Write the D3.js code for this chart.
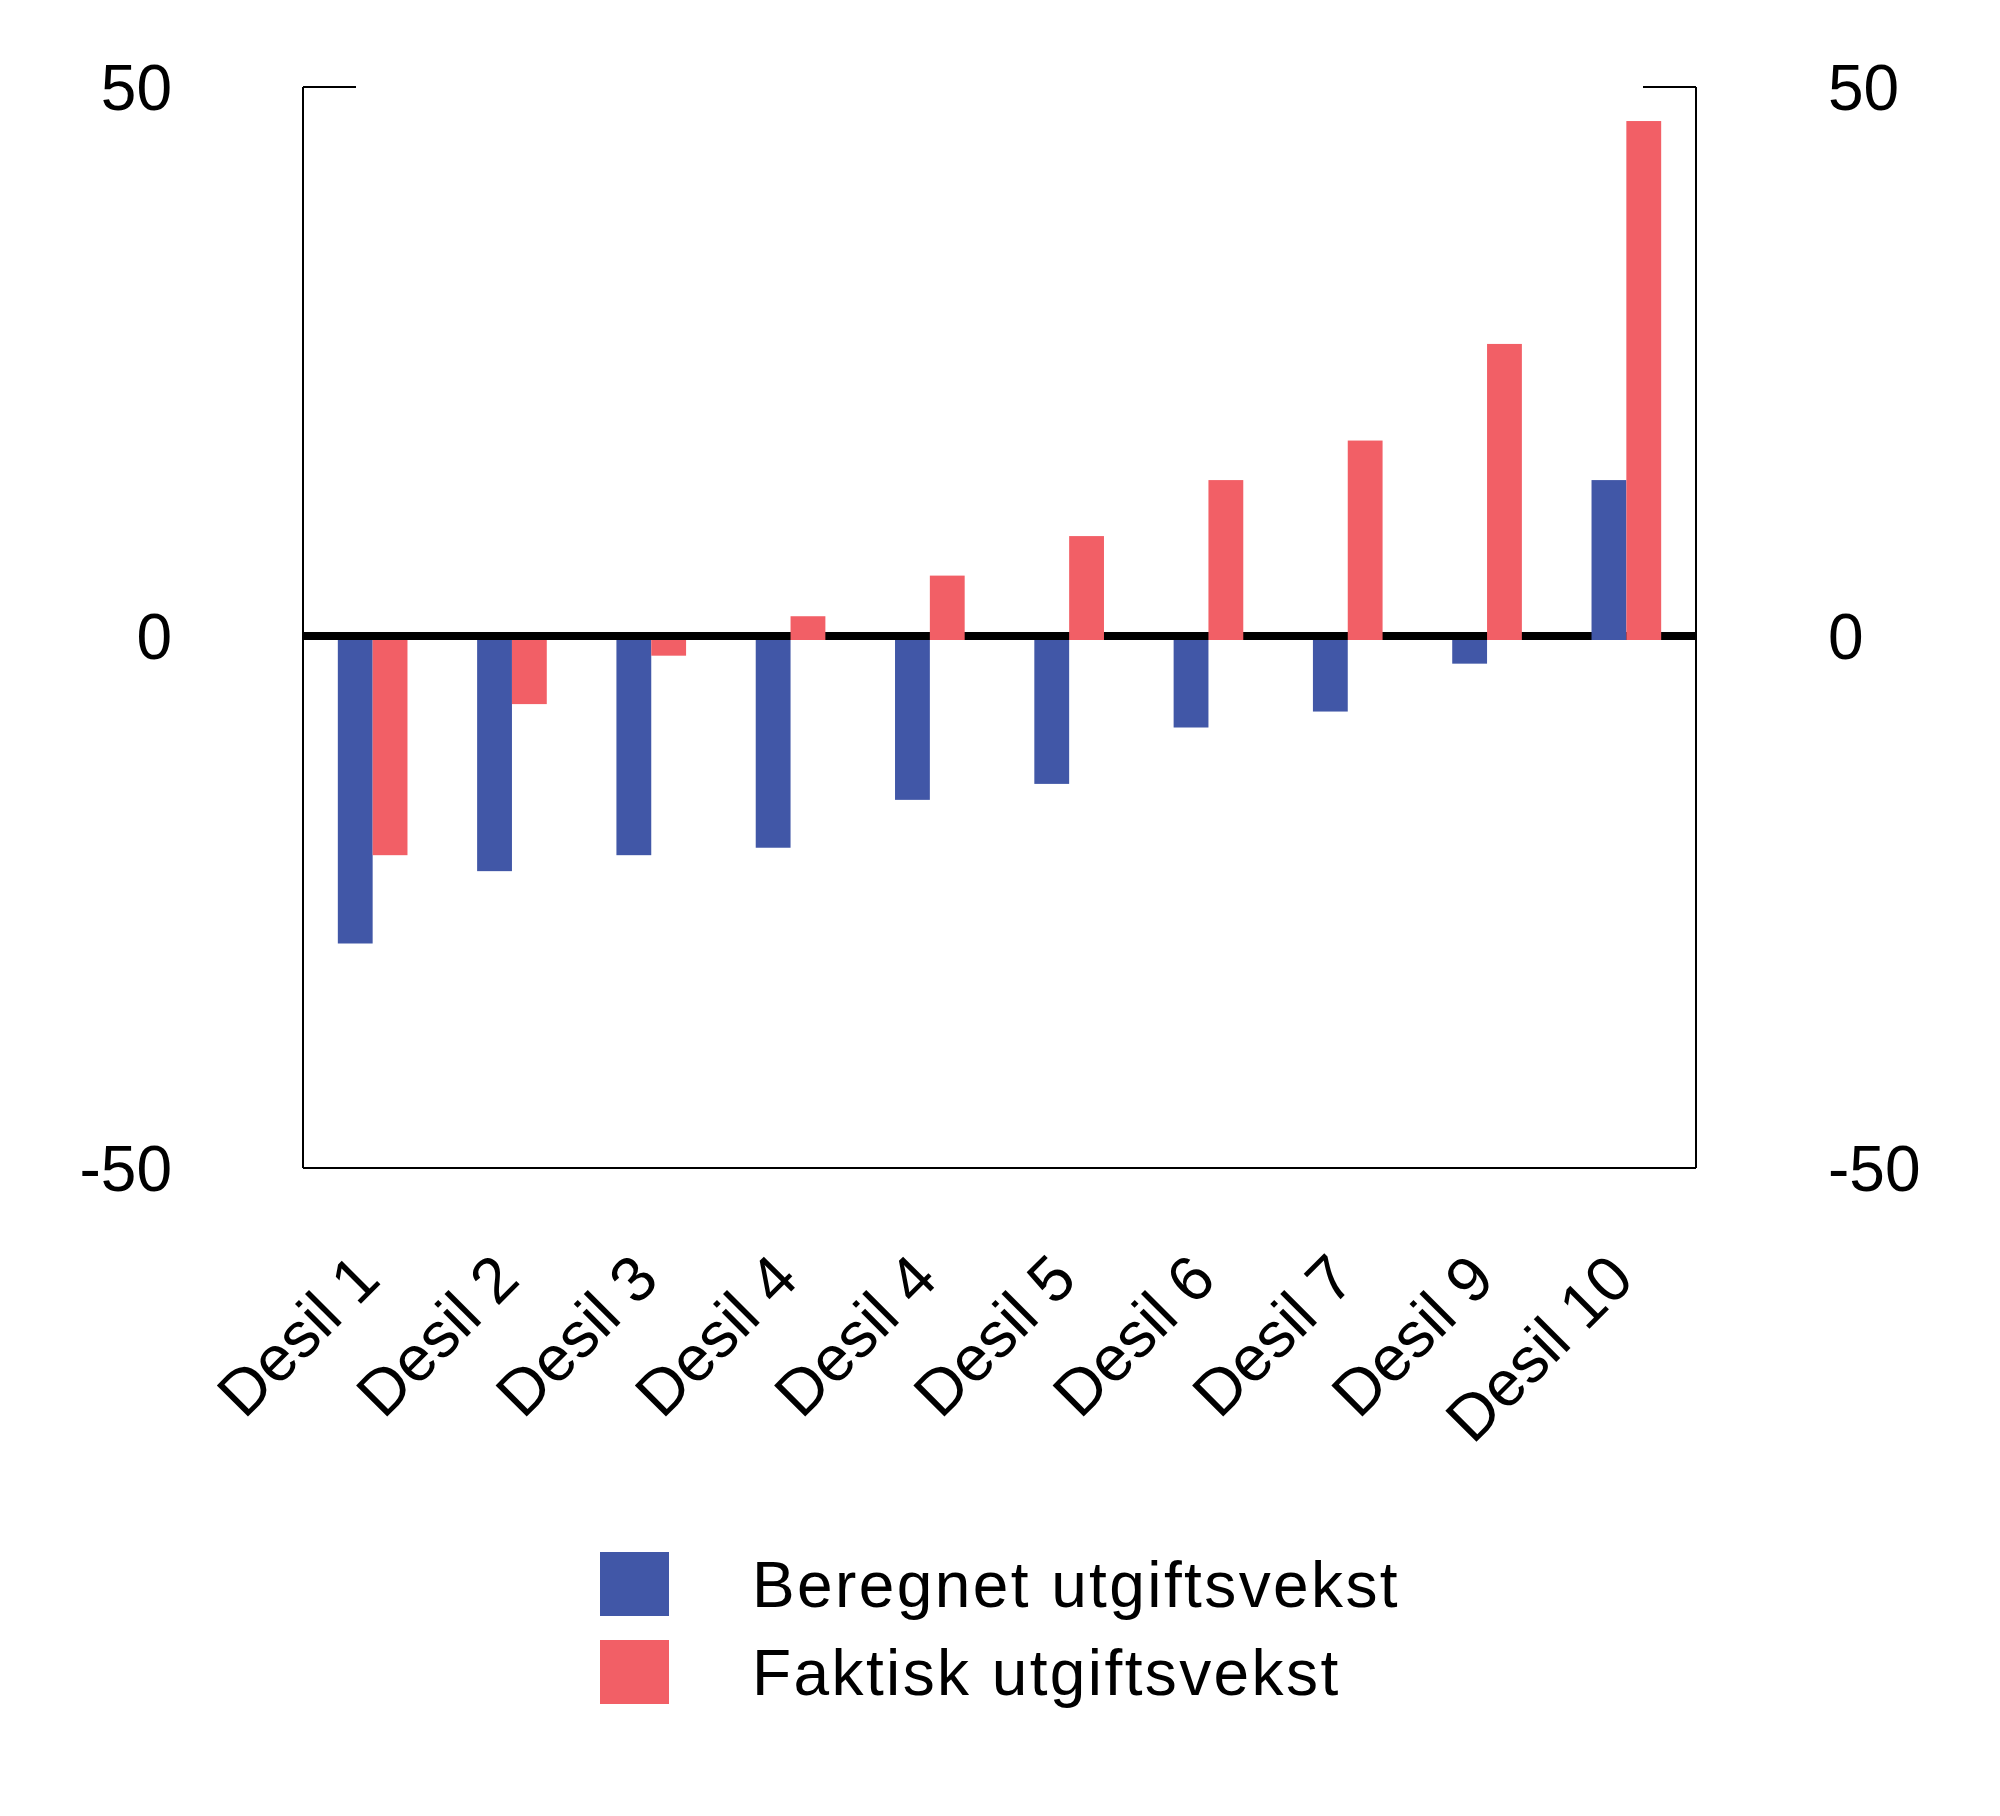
<!DOCTYPE html>
<html>
<head>
<meta charset="utf-8">
<script src="https://cdn.jsdelivr.net/npm/d3@7"></script>
<style>
  body { margin: 0; background: #fff; }
  svg { display: block; font-family: "Liberation Sans", Arial, sans-serif; }
</style>
</head>
<body>
<svg id="chart" width="2000" height="1816"></svg>
<script>
// categories (note: "Desil 4" appears twice in the source chart)
var categories = ["Desil 1", "Desil 2", "Desil 3", "Desil 4", "Desil 4", "Desil 5", "Desil 6", "Desil 7", "Desil 9", "Desil 10"];
var beregnet = [-28.9, -22.1, -20.6, -19.9, -15.4, -13.9, -8.6, -7.1, -2.6, 14.2];
var faktisk = [-20.6, -6.4, -1.85, 1.8, 5.5, 9.1, 14.2, 17.8, 26.6, 46.9];
var seriesNames = ["Beregnet utgiftsvekst", "Faktisk utgiftsvekst"];
var seriesColors = ["#4157a7", "#f25f66"];
var yTicks = [50, 0, -50];

var svg = d3.select("#chart");
var pLeft = 303, pRight = 1696, pTop = 87, pBottom = 1168;

// piecewise: the zero line sits a bit below the midpoint in the original
var y = d3.scaleLinear().domain([-50, 0, 50]).range([pBottom, 636, pTop]);
var x = d3.scaleBand().domain(d3.range(categories.length)).range([pLeft, pRight])
  .paddingInner(0.5).paddingOuter(0.25);
var xs = d3.scaleBand().domain([0, 1]).range([0, x.bandwidth()]);

var frame = svg.append("g").attr("stroke", "#000").attr("stroke-width", 2).attr("fill", "none");
frame.append("line").attr("x1", pLeft).attr("x2", pLeft).attr("y1", pTop).attr("y2", pBottom);
frame.append("line").attr("x1", pRight).attr("x2", pRight).attr("y1", pTop).attr("y2", pBottom);
frame.append("line").attr("x1", pLeft).attr("x2", pRight).attr("y1", pBottom).attr("y2", pBottom);
frame.append("line").attr("x1", pLeft).attr("x2", pLeft + 53).attr("y1", pTop).attr("y2", pTop);
frame.append("line").attr("x1", pRight - 53).attr("x2", pRight).attr("y1", pTop).attr("y2", pTop);

// zero line
svg.append("line").attr("x1", pLeft).attr("x2", pRight)
  .attr("y1", y(0)).attr("y2", y(0))
  .attr("stroke", "#000").attr("stroke-width", 8);

var base = y(0) + 4;
var series = [beregnet, faktisk];
series.forEach(function(vals, s) {
  svg.append("g").selectAll("rect").data(vals).enter().append("rect")
    .attr("x", function(d, i) { return x(i) + xs(s); })
    .attr("width", xs.bandwidth())
    .attr("y", function(d) { return Math.min(y(d), base); })
    .attr("height", function(d) { return Math.abs(base - y(d)); })
    .attr("fill", seriesColors[s]);
});

// y tick labels both sides
var tl = svg.append("g").attr("font-size", 64).attr("fill", "#000");
yTicks.forEach(function(t) {
  tl.append("text").attr("x", 172).attr("y", y(t)).attr("dy", "0.36em")
    .attr("text-anchor", "end").text(t);
  tl.append("text").attr("x", 1828).attr("y", y(t)).attr("dy", "0.36em")
    .attr("text-anchor", "start").text(t);
});

// x labels, rotated
svg.append("g").attr("font-size", 64).selectAll("text").data(categories).enter().append("text")
  .attr("text-anchor", "end")
  .attr("transform", function(d, i) {
    return "translate(" + (x(i) + x.bandwidth() / 2 + 10) + "," + 1282 + ") rotate(-45)";
  })
  .text(function(d) { return d; });

// legend
var lg = svg.append("g");
seriesNames.forEach(function(name, i) {
  var yy = 1552 + i * 88;
  lg.append("rect").attr("x", 600).attr("y", yy).attr("width", 69).attr("height", 64)
    .attr("fill", seriesColors[i]);
  lg.append("text").attr("x", 752).attr("y", yy + 32).attr("dy", "0.36em")
    .attr("font-size", 64).attr("letter-spacing", 2.4).text(name);
});
</script>
</body>
</html>
